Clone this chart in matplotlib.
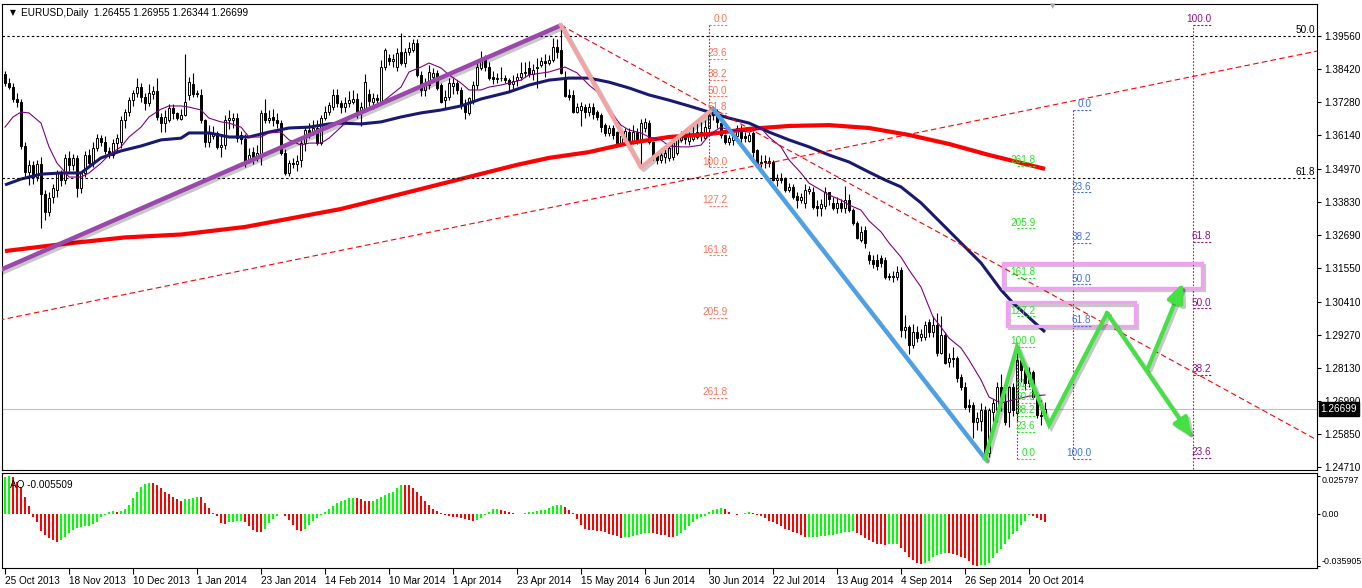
import numpy as np
import matplotlib
matplotlib.use("Agg")
import matplotlib.pyplot as plt
import matplotlib.patheffects as pe
from matplotlib.patches import Rectangle

plt.rcParams['font.family'] = ['Liberation Sans', 'DejaVu Sans']
FS = 7.2

# ---------------- data ----------------
symbol = "EURUSD,Daily"
last_ohlc = "1.26455 1.26955 1.26344 1.26699"
last_price = 1.26699

opens = [
1.3825,1.3795,1.3782,1.3738,1.3730,1.3576,1.3486,1.3512,1.3470,1.3515,
1.3410,1.3350,1.3402,1.3425,1.3484,1.3460,1.3535,1.3512,1.3537,1.3432,
1.3484,1.3546,1.3520,1.3570,1.3605,1.3590,1.3560,1.3545,1.3587,1.3590,
1.3667,1.3694,1.3735,1.3760,1.3780,1.3746,1.3725,1.3755,1.3765,1.3677,
1.3656,1.3667,1.3708,1.3690,1.3670,1.3685,1.3752,1.3790,1.3755,1.3752,
1.3667,1.3590,1.3610,1.3622,1.3575,1.3580,1.3665,1.3668,1.3673,1.3615,
1.3600,1.3529,1.3556,1.3536,1.3539,1.3691,1.3667,1.3676,1.3668,1.3656,
1.3553,1.3484,1.3518,1.3515,1.3529,1.3587,1.3632,1.3625,1.3640,1.3587,
1.3673,1.3694,1.3710,1.3752,1.3725,1.3712,1.3725,1.3730,1.3738,1.3690,
1.3705,1.3755,1.3730,1.3742,1.3729,1.3849,1.3880,1.3870,1.3850,1.3900,
1.3863,1.3900,1.3908,1.3932,1.3822,1.3770,1.3787,1.3815,1.3829,1.3787,
1.3735,1.3745,1.3785,1.3795,1.3770,1.3718,1.3690,1.3735,1.3787,1.3846,
1.3880,1.3849,1.3815,1.3808,1.3813,1.3810,1.3805,1.3790,1.3804,1.3815,
1.3829,1.3845,1.3825,1.3845,1.3855,1.3870,1.3862,1.3873,1.3918,1.3908,
1.3815,1.3752,1.3752,1.3694,1.3700,1.3711,1.3694,1.3711,1.3694,1.3684,
1.3649,1.3622,1.3639,1.3625,1.3587,1.3597,1.3625,1.3590,1.3625,1.3598,
1.3640,1.3656,1.3591,1.3546,1.3529,1.3539,1.3536,1.3539,1.3553,1.3598,
1.3620,1.3595,1.3600,1.3608,1.3625,1.3605,1.3639,1.3684,1.3690,1.3656,
1.3615,1.3592,1.3598,1.3610,1.3639,1.3612,1.3594,1.3622,1.3563,1.3518,
1.3522,1.3527,1.3522,1.3460,1.3468,1.3467,1.3425,1.3435,1.3405,1.3391,
1.3380,1.3423,1.3418,1.3370,1.3364,1.3370,1.3418,1.3380,1.3364,1.3380,
1.3364,1.3391,1.3356,1.3312,1.3253,1.3287,1.3200,1.3184,1.3185,1.3190,
1.3184,1.3128,1.3125,1.3126,1.3150,1.2943,1.2953,1.2891,1.2936,1.2918,
1.2920,1.2970,1.2936,1.2960,1.2864,1.2926,1.2833,1.2847,1.2847,1.2781,
1.2746,1.2684,1.2684,1.2626,1.2630,1.2667,1.2519,1.2660,1.2667,1.2746,
1.2695,1.2660,1.2746,1.2657,1.2840,1.2812,1.2760,1.2798,1.2719,1.2650,
1.26455]
highs = [
1.3835,1.3812,1.3795,1.3760,1.3738,1.3590,1.3529,1.3525,1.3530,1.3540,
1.3425,1.3420,1.3445,1.3495,1.3495,1.3548,1.3560,1.3550,1.3545,1.3490,
1.3560,1.3565,1.3590,1.3620,1.3615,1.3610,1.3575,1.3600,1.3620,1.3680,
1.3705,1.3745,1.3770,1.3810,1.3795,1.3760,1.3790,1.3785,1.3810,1.3690,
1.3700,1.3720,1.3720,1.3695,1.3705,1.3893,1.3815,1.3830,1.3770,1.3775,
1.3670,1.3650,1.3645,1.3630,1.3615,1.3685,1.3700,1.3690,1.3690,1.3630,
1.3620,1.3570,1.3575,1.3580,1.3700,1.3740,1.3700,1.3705,1.3690,1.3665,
1.3565,1.3530,1.3535,1.3545,1.3600,1.3645,1.3655,1.3665,1.3665,1.3685,
1.3715,1.3730,1.3775,1.3775,1.3735,1.3745,1.3765,1.3770,1.3760,1.3730,
1.3825,1.3775,1.3760,1.3755,1.3875,1.3915,1.3895,1.3895,1.3915,1.3967,
1.3915,1.3935,1.3945,1.3945,1.3835,1.3810,1.3855,1.3845,1.3840,1.3795,
1.3770,1.3810,1.3810,1.3805,1.3780,1.3740,1.3745,1.3800,1.3865,1.3905,
1.3890,1.3865,1.3835,1.3830,1.3850,1.3820,1.3810,1.3820,1.3830,1.3865,
1.3865,1.3870,1.3860,1.3880,1.3885,1.3895,1.3890,1.3950,1.3945,1.3993,
1.3835,1.3775,1.3770,1.3725,1.3730,1.3720,1.3725,1.3725,1.3700,1.3690,
1.3655,1.3650,1.3650,1.3630,1.3630,1.3640,1.3640,1.3650,1.3640,1.3670,
1.3675,1.3665,1.3595,1.3555,1.3570,1.3565,1.3580,1.3595,1.3615,1.3630,
1.3630,1.3625,1.3645,1.3655,1.3660,1.3665,1.3700,1.3701,1.3705,1.3665,
1.3620,1.3615,1.3625,1.3650,1.3650,1.3625,1.3625,1.3630,1.3565,1.3545,
1.3545,1.3540,1.3530,1.3480,1.3485,1.3470,1.3450,1.3445,1.3420,1.3415,
1.3445,1.3440,1.3435,1.3390,1.3395,1.3435,1.3420,1.3400,1.3400,1.3395,
1.3440,1.3410,1.3365,1.3320,1.3300,1.3300,1.3215,1.3200,1.3205,1.3200,
1.3195,1.3140,1.3145,1.3165,1.3160,1.2995,1.2960,1.2965,1.2955,1.2945,
1.2975,1.2980,1.2990,1.3000,1.2990,1.2935,1.2865,1.2885,1.2855,1.2790,
1.2765,1.2705,1.2695,1.2660,1.2690,1.2680,1.2675,1.2705,1.2765,1.2790,
1.2725,1.2750,1.2760,1.2885,1.2845,1.2820,1.2815,1.2805,1.2730,1.2700,
1.26955]
lows = [
1.3785,1.3772,1.3728,1.3712,1.3565,1.3470,1.3443,1.3445,1.3455,1.3295,
1.3322,1.3335,1.3380,1.3400,1.3440,1.3445,1.3490,1.3495,1.3400,1.3414,
1.3470,1.3505,1.3505,1.3560,1.3578,1.3550,1.3535,1.3535,1.3560,1.3570,
1.3640,1.3680,1.3715,1.3745,1.3730,1.3700,1.3715,1.3740,1.3665,1.3625,
1.3625,1.3660,1.3670,1.3665,1.3665,1.3680,1.3735,1.3745,1.3745,1.3655,
1.3575,1.3575,1.3600,1.3565,1.3540,1.3565,1.3635,1.3640,1.3590,1.3585,
1.3505,1.3520,1.3515,1.3525,1.3510,1.3655,1.3655,1.3645,1.3640,1.3545,
1.3477,1.3475,1.3500,1.3490,1.3505,1.3560,1.3605,1.3615,1.3580,1.3580,
1.3665,1.3685,1.3700,1.3710,1.3690,1.3695,1.3710,1.3720,1.3675,1.3645,
1.3700,1.3715,1.3705,1.3710,1.3720,1.3840,1.3855,1.3850,1.3835,1.3855,
1.3850,1.3890,1.3900,1.3815,1.3750,1.3750,1.3775,1.3800,1.3770,1.3725,
1.3705,1.3735,1.3755,1.3755,1.3705,1.3670,1.3685,1.3720,1.3775,1.3840,
1.3835,1.3805,1.3790,1.3795,1.3800,1.3795,1.3765,1.3775,1.3785,1.3805,
1.3815,1.3815,1.3805,1.3777,1.3850,1.3815,1.3855,1.3865,1.3880,1.3825,
1.3745,1.3735,1.3690,1.3690,1.3645,1.3675,1.3680,1.3670,1.3665,1.3625,
1.3610,1.3612,1.3600,1.3585,1.3580,1.3590,1.3590,1.3585,1.3585,1.3503,
1.3625,1.3585,1.3530,1.3515,1.3520,1.3520,1.3525,1.3530,1.3545,1.3590,
1.3585,1.3580,1.3595,1.3600,1.3595,1.3600,1.3625,1.3665,1.3640,1.3605,
1.3585,1.3580,1.3580,1.3595,1.3580,1.3590,1.3590,1.3540,1.3505,1.3505,
1.3500,1.3505,1.3455,1.3440,1.3450,1.3420,1.3420,1.3395,1.3365,1.3380,
1.3365,1.3410,1.3360,1.3335,1.3335,1.3360,1.3375,1.3355,1.3345,1.3350,
1.3345,1.3350,1.3305,1.3255,1.3245,1.3225,1.3170,1.3155,1.3150,1.3160,
1.3120,1.3115,1.3110,1.3115,1.2920,1.2915,1.2860,1.2880,1.2900,1.2905,
1.2910,1.2920,1.2920,1.2855,1.2860,1.2825,1.2815,1.2815,1.2765,1.2735,
1.2670,1.2660,1.2570,1.2600,1.2595,1.2500,1.2505,1.2625,1.2625,1.2665,
1.2615,1.2610,1.2645,1.2625,1.2765,1.2735,1.2745,1.2705,1.2640,1.2615,
1.26344]
closes = [
1.3795,1.3782,1.3738,1.3730,1.3576,1.3486,1.3512,1.3470,1.3515,1.3410,
1.3350,1.3398,1.3432,1.3484,1.3460,1.3535,1.3512,1.3537,1.3432,1.3484,
1.3546,1.3520,1.3570,1.3605,1.3590,1.3560,1.3545,1.3587,1.3605,1.3667,
1.3694,1.3735,1.3760,1.3780,1.3746,1.3725,1.3760,1.3765,1.3677,1.3656,
1.3677,1.3708,1.3690,1.3675,1.3685,1.3730,1.3797,1.3755,1.3760,1.3667,
1.3590,1.3622,1.3622,1.3575,1.3580,1.3667,1.3672,1.3673,1.3605,1.3600,
1.3522,1.3546,1.3536,1.3553,1.3691,1.3667,1.3675,1.3665,1.3655,1.3553,
1.3484,1.3518,1.3515,1.3525,1.3587,1.3632,1.3615,1.3640,1.3587,1.3673,
1.3694,1.3718,1.3752,1.3725,1.3712,1.3725,1.3735,1.3738,1.3690,1.3710,
1.3797,1.3732,1.3742,1.3737,1.3849,1.3908,1.3870,1.3876,1.3897,1.3863,
1.3900,1.3915,1.3932,1.3822,1.3770,1.3787,1.3832,1.3829,1.3778,1.3729,
1.3745,1.3794,1.3795,1.3770,1.3718,1.3694,1.3742,1.3787,1.3849,1.3880,
1.3849,1.3811,1.3808,1.3813,1.3810,1.3805,1.3790,1.3802,1.3815,1.3829,
1.3832,1.3825,1.3840,1.3849,1.3870,1.3862,1.3873,1.3918,1.3901,1.3829,
1.3750,1.3746,1.3694,1.3711,1.3715,1.3694,1.3711,1.3687,1.3677,1.3642,
1.3622,1.3640,1.3615,1.3587,1.3612,1.3630,1.3596,1.3625,1.3595,1.3656,
1.3660,1.3591,1.3539,1.3529,1.3546,1.3552,1.3570,1.3587,1.3605,1.3622,
1.3600,1.3610,1.3622,1.3625,1.3615,1.3642,1.3684,1.3690,1.3660,1.3615,
1.3592,1.3605,1.3612,1.3639,1.3605,1.3605,1.3615,1.3556,1.3518,1.3522,
1.3525,1.3520,1.3460,1.3468,1.3460,1.3425,1.3435,1.3401,1.3391,1.3400,
1.3425,1.3428,1.3367,1.3364,1.3377,1.3418,1.3395,1.3364,1.3380,1.3364,
1.3391,1.3356,1.3312,1.3260,1.3280,1.3243,1.3184,1.3170,1.3165,1.3175,
1.3126,1.3125,1.3128,1.3143,1.2943,1.2953,1.2891,1.2936,1.2915,1.2930,
1.2960,1.2936,1.2960,1.2864,1.2926,1.2830,1.2847,1.2843,1.2778,1.2746,
1.2677,1.2677,1.2626,1.2640,1.2667,1.2519,1.2667,1.2691,1.2746,1.2690,
1.2625,1.2746,1.2667,1.2840,1.2805,1.2760,1.2798,1.2712,1.2650,1.2646,
1.26699]

# moving averages (bar index, price)
ma_fast_idx = [0,2,4,6,9,11,13,15,16,19,21,24,26,29,31,34,36,39,41,44,46,49,51,54,56,59,61,64,66,69,
               71,74,76,79,81,84,86,89,94,99,101,104,106,109,111,114,116,119,121,124,129,131,136,140,143,
               146,149,151,154,156,159,161,164,166,169,171,174,176,179,181,184,186,189,191,194,196,199,
               201,204,206,209,211,214,216,219,221,224,226,229,231,232,234,236,239,241,244,246,249,252,256,260]
ma_fast_val = [1.3642,1.3677,1.3694,1.3691,1.3656,1.3574,1.3518,1.3487,1.3470,1.3470,1.3484,1.3518,1.3546,
               1.3574,1.3608,1.3642,1.3677,1.3704,1.3715,1.3715,1.3711,1.3701,1.3673,1.3660,1.3656,1.3642,
               1.3608,1.3608,1.3622,1.3625,1.3598,1.3580,1.3587,1.3587,1.3604,1.3642,1.3673,1.3691,1.3725,
               1.3780,1.3832,1.3849,1.3863,1.3846,1.3822,1.3794,1.3770,1.3770,1.3780,1.3787,1.3804,1.3822,
               1.3832,1.3849,1.3829,1.3787,1.3753,1.3701,1.3649,1.3632,1.3622,1.3608,1.3598,1.3577,1.3574,
               1.3574,1.3580,1.3615,1.3642,1.3632,1.3629,1.3625,1.3639,1.3608,1.3574,1.3529,1.3484,1.3449,
               1.3425,1.3408,1.3391,1.3374,1.3356,1.3319,1.3281,1.3243,1.3194,1.3150,1.3091,1.3022,1.2988,
               1.2953,1.2915,1.2881,1.2840,1.2771,1.2712,1.2691,1.2702,1.2715,1.2719]
ma_mid_idx = [0,4,9,14,19,24,29,34,39,44,46,51,56,61,66,71,76,81,84,89,94,99,104,109,114,119,124,126,131,
              136,141,146,151,156,161,166,171,176,181,186,191,196,201,206,211,216,220,224,229,234,239,244,
              249,252,260]
ma_mid_val = [1.3443,1.3463,1.3480,1.3484,1.3484,1.3536,1.3560,1.3577,1.3598,1.3604,1.3622,1.3622,1.3608,
              1.3608,1.3625,1.3639,1.3642,1.3653,1.3656,1.3653,1.3660,1.3677,1.3691,1.3701,1.3715,1.3739,
              1.3756,1.3763,1.3787,1.3804,1.3811,1.3811,1.3797,1.3777,1.3753,1.3735,1.3715,1.3694,1.3673,
              1.3656,1.3625,1.3598,1.3574,1.3546,1.3522,1.3487,1.3460,1.3436,1.3381,1.3312,1.3243,1.3174,
              1.3081,1.3036,1.2936]
ma_slow_idx = [0,15,30,44,60,84,100,115,128,136,146,156,166,176,186,196,206,216,226,236,246,251,260]
ma_slow_val = [1.3215,1.3240,1.3262,1.3272,1.3298,1.3360,1.3415,1.3467,1.3512,1.3536,1.3556,1.3587,1.3608,
               1.3618,1.3636,1.3646,1.3649,1.3639,1.3615,1.3584,1.3546,1.3529,1.3498]

# Awesome Oscillator values
ao = [
0.0248,0.0257,0.0248,0.0215,0.0180,0.0115,0.0049,-0.0021,-0.0061,-0.0119,
-0.0150,-0.0171,-0.0183,-0.0197,-0.0185,-0.0161,-0.0131,-0.0112,-0.0096,-0.0094,
-0.0089,-0.0084,-0.0073,-0.0056,-0.0026,-0.0009,0.0009,0.0014,0.0012,0.0019,
0.0028,0.0061,0.0103,0.0145,0.0180,0.0201,0.0208,0.0206,0.0197,0.0173,
0.0145,0.0131,0.0110,0.0096,0.0084,0.0096,0.0098,0.0108,0.0115,0.0112,
0.0073,0.0040,0.0002,-0.0014,-0.0068,-0.0070,-0.0061,-0.0056,-0.0054,-0.0051,
-0.0056,-0.0084,-0.0112,-0.0126,-0.0129,-0.0103,-0.0066,-0.0037,-0.0014,-0.0005,
-0.0016,-0.0042,-0.0080,-0.0112,-0.0119,-0.0105,-0.0077,-0.0051,-0.0028,-0.0009,
0.0012,0.0028,0.0051,0.0070,0.0087,0.0094,0.0103,0.0108,0.0103,0.0098,
0.0089,0.0087,0.0089,0.0098,0.0110,0.0124,0.0140,0.0150,0.0178,0.0197,
0.0194,0.0192,0.0178,0.0145,0.0122,0.0087,0.0061,0.0028,0.0016,0.0005,
-0.0009,-0.0016,-0.0021,-0.0026,-0.0030,-0.0037,-0.0047,-0.0051,-0.0047,-0.0030,
-0.0012,0.0012,0.0028,0.0030,0.0021,0.0014,0.0007,0.0002,-0.0002,-0.0005,
0.0005,0.0007,0.0012,0.0014,0.0021,0.0026,0.0037,0.0049,0.0059,0.0061,
0.0047,0.0023,0.0005,-0.0037,-0.0082,-0.0105,-0.0110,-0.0112,-0.0117,-0.0122,
-0.0129,-0.0143,-0.0150,-0.0157,-0.0171,-0.0164,-0.0161,-0.0154,-0.0147,-0.0143,
-0.0136,-0.0131,-0.0136,-0.0143,-0.0145,-0.0150,-0.0159,-0.0164,-0.0154,-0.0131,
-0.0112,-0.0089,-0.0061,-0.0037,-0.0026,-0.0014,0.0009,0.0023,0.0033,0.0037,
0.0028,0.0009,-0.0005,-0.0007,-0.0002,0.0002,0.0007,0.0005,-0.0007,-0.0014,
-0.0030,-0.0049,-0.0061,-0.0073,-0.0089,-0.0103,-0.0112,-0.0124,-0.0136,-0.0150,
-0.0164,-0.0161,-0.0160,-0.0159,-0.0157,-0.0154,-0.0150,-0.0145,-0.0140,-0.0133,
-0.0129,-0.0124,-0.0122,-0.0131,-0.0150,-0.0171,-0.0183,-0.0197,-0.0206,-0.0211,
-0.0213,-0.0211,-0.0208,-0.0206,-0.0236,-0.0267,-0.0295,-0.0318,-0.0342,-0.0349,
-0.0342,-0.0323,-0.0300,-0.0283,-0.0276,-0.0271,-0.0274,-0.0278,-0.0285,-0.0295,
-0.0307,-0.0328,-0.0351,-0.0359,-0.0356,-0.0351,-0.0337,-0.0307,-0.0271,-0.0241,
-0.0206,-0.0173,-0.0143,-0.0119,-0.0080,-0.0049,-0.0009,-0.0014,-0.0033,-0.0042,
-0.0055]
ao_label = "AO -0.005509"
ao_ticks = [0.025797, 0.0, -0.035905]
ao_tick_labels = ["0.025797", "0.00", "-0.035905"]

date_tick_pos = [0,16,32,48,64,80,96,112,128,144,160,176,192,208,224,240,256]
date_tick_labels = ["25 Oct 2013","18 Nov 2013","10 Dec 2013","1 Jan 2014","23 Jan 2014","14 Feb 2014",
                    "10 Mar 2014","1 Apr 2014","23 Apr 2014","15 May 2014","6 Jun 2014","30 Jun 2014",
                    "22 Jul 2014","13 Aug 2014","4 Sep 2014","26 Sep 2014","20 Oct 2014"]
price_ticks = [1.39560,1.38420,1.37280,1.36140,1.34970,1.33830,1.32690,1.31550,1.30410,1.29270,
               1.28130,1.26990,1.25850,1.24710]

# hand-drawn objects (bar index, price)
trend_idx = [0, 139];            trend_val = [1.3157, 1.3993]
pink_idx = [139, 159, 177];      pink_val = [1.3993, 1.3503, 1.3705]
blue_idx = [177, 245];           blue_val = [1.3705, 1.2500]
green_idx = [245, 253, 261, 275.5]; green_val = [1.2500, 1.2885, 1.2616, 1.3001]
arrow_down_idx = [275.5, 296.75]; arrow_down_val = [1.3001, 1.2574]
arrow_up_idx = [285.75, 294.5];   arrow_up_val = [1.2812, 1.3105]
ray_up_idx = [0, 328];           ray_up_val = [1.2981, 1.3904]
ray_down_idx = [139, 328];       ray_down_val = [1.3993, 1.2564]
box_x0 = [249.5, 250.5]; box_x1 = [299.25, 282.5]
box_y0 = [1.3088, 1.2957]; box_y1 = [1.3174, 1.3039]

fib_ext_levels = [0, 23.6, 38.2, 50, 61.8, 100, 127.2, 161.8, 205.9, 261.8]
fib_ret_levels = [0, 23.6, 38.2, 50, 61.8, 100]
fib1_p = [1.3993, 1.3503]; fib1_bar = 176
fib2_p = [1.2500, 1.2885]; fib2_bar = 253
fib3_p = [1.3700, 1.2500]; fib3_bar = 267
fib4_p = [1.2042, 1.3993]; fib4_bar = 297
fib_big_p = [1.6038, 1.1876]; fib_big_levels = [50.0, 61.8]

# ---------------- layout ----------------
W, H = 1362, 588
fig = plt.figure(figsize=(W / 100, H / 100), dpi=100)
fig.patch.set_facecolor("white")

def fx(px):
    return px / W

def fy(py):
    return 1 - py / H

ax = fig.add_axes([fx(2), fy(470), fx(1317) - fx(2), fy(4) - fy(470)])
ax2 = fig.add_axes([fx(2), fy(568), fx(1317) - fx(2), fy(473) - fy(568)])
XL = (-0.75, 328.0)
for a in (ax, ax2):
    a.set_xlim(*XL)
    for s in a.spines.values():
        s.set_color("black")
        s.set_linewidth(0.8)
ax.set_ylim(1.24605, 1.40663)
ax2.set_ylim(-0.03735, 0.02776)

# ---------------- candles ----------------
o = np.array(opens); h = np.array(highs); l = np.array(lows); c = np.array(closes)
idx = np.arange(len(c))
ax.vlines(idx, l, h, color="black", lw=0.8, zorder=2)
bot = np.minimum(o, c)
hgt = np.maximum(np.abs(c - o), 0.00008)
up = c >= o
ax.bar(idx[up], hgt[up], bottom=bot[up], width=0.5, facecolor="white", edgecolor="black", lw=0.7, zorder=3)
ax.bar(idx[~up], hgt[~up], bottom=bot[~up], width=0.5, facecolor="black", edgecolor="black", lw=0.7, zorder=3)

# price line
ax.axhline(last_price, color="#C0C0C0", lw=0.8, zorder=1)

# moving averages
ax.plot(ma_slow_idx, ma_slow_val, color="#FF0000", lw=3.0, zorder=4, solid_capstyle="butt")
ax.plot(ma_mid_idx, ma_mid_val, color="#191970", lw=2.2, zorder=4, solid_capstyle="butt")
ax.plot(ma_fast_idx, ma_fast_val, color="#800080", lw=0.8, zorder=4)

# black fib levels (long term)
for L in fib_big_levels:
    p = fib_big_p[0] + (fib_big_p[1] - fib_big_p[0]) * L / 100.0
    ax.axhline(p, color="black", lw=0.8, ls=(0, (2.2, 2.2)), zorder=5)
    ax.annotate(f"{L:.1f}", xy=(327.5, p), xytext=(0, 0.6), textcoords="offset points",
                ha="right", va="bottom", fontsize=FS, color="black", zorder=8)

# red dashed rays
def ray(xs, ys, x_from, x_to):
    k = (ys[1] - ys[0]) / (xs[1] - xs[0])
    return [x_from, x_to], [ys[0] + k * (x_from - xs[0]), ys[0] + k * (x_to - xs[0])]

rx, ry = ray(ray_up_idx, ray_up_val, -3, 331)
ax.plot(rx, ry, color="#FF0000", lw=0.8, ls=(0, (5, 3)), zorder=5)
rx, ry = ray(ray_down_idx, ray_down_val, ray_down_idx[0], 331)
ax.plot(rx, ry, color="#FF0000", lw=0.8, ls=(0, (5, 3)), zorder=5)

shadow = [pe.SimpleLineShadow(offset=(1.8, -1.8), shadow_color="black", alpha=0.22), pe.Normal()]

# thick trend drawings
tx, ty = ray(trend_idx, trend_val, -3, trend_idx[1])
ax.plot(tx, ty, color="#9A48AC", lw=3.2, zorder=6, path_effects=shadow, solid_capstyle="butt")
ax.plot(pink_idx, pink_val, color="#F2A3A3", lw=3.0, zorder=6, path_effects=shadow)
ax.plot(blue_idx, blue_val, color="#4CA0E6", lw=3.0, zorder=6, path_effects=shadow)

GREEN = "#44E044"
ax.plot(green_idx, green_val, color=GREEN, lw=3.0, zorder=9, path_effects=shadow, solid_joinstyle="miter")
for xs, ys in ((arrow_down_idx, arrow_down_val), (arrow_up_idx, arrow_up_val)):
    ax.annotate("", xy=(xs[1], ys[1]), xytext=(xs[0], ys[0]),
                arrowprops=dict(arrowstyle="-|>,head_length=0.8,head_width=0.35", color=GREEN,
                                lw=3.0, mutation_scale=14, shrinkA=0, shrinkB=0,
                                path_effects=shadow), zorder=9)

# violet boxes
for x0, x1, y0, y1 in zip(box_x0, box_x1, box_y0, box_y1):
    r = Rectangle((x0, y0), x1 - x0, y1 - y0, fill=False, edgecolor="#F2A0F2", lw=2.4, zorder=6,
                  path_effects=shadow)
    ax.add_patch(r)

# fibonacci labels
def fib(p, levels, xv, color, vline_levels):
    xr = xv + 4.6
    for L in levels:
        y = p[0] + (p[1] - p[0]) * L / 100.0
        ax.plot([xv, xr], [y, y], color=color, lw=0.8, ls=(0, (2, 1.5)), zorder=7)
        ax.annotate(f"{L:.1f}", xy=(xr, y), xytext=(0, 0.6), textcoords="offset points",
                    ha="right", va="bottom", color=color, fontsize=FS, zorder=8, annotation_clip=True)
    ya = p[0] + (p[1] - p[0]) * vline_levels[0] / 100.0
    yb = p[0] + (p[1] - p[0]) * vline_levels[1] / 100.0
    ax.plot([xv, xv], [ya, yb], color="#FF0000", lw=0.8, ls=(0, (1.5, 1.5)), zorder=5)

fib(fib1_p, fib_ext_levels, fib1_bar, "#FF7058", (0, 100))
fib(fib2_p, fib_ext_levels, fib2_bar, "#22E622", (0, 100))
fib(fib3_p, fib_ret_levels, fib3_bar, "#3D6FE0", (0, 100))
fib(fib4_p, fib_ret_levels, fib4_bar, "#8B108B", (0, 100))

# ---------------- axes ticks ----------------
ax.set_xticks([])
ax.yaxis.tick_right()
ax.set_yticks(price_ticks)
ax.set_yticklabels([f"{v:.5f}" for v in price_ticks])
ax.tick_params(axis="y", direction="out", length=3, width=0.8, pad=2, labelsize=FS, colors="black")

ax.annotate(f"{last_price:.5f}", xy=(1, last_price), xycoords=("axes fraction", "data"),
            xytext=(2.5, 0), textcoords="offset points", ha="left", va="center", color="white",
            fontsize=FS, bbox=dict(boxstyle="square,pad=0.18", fc="black", ec="black"),
            annotation_clip=False, zorder=20)

# AO histogram
aov = np.array(ao)
cols = ["#00FF00" if (i == 0 or aov[i] > aov[i - 1]) else "#FF0000" for i in range(len(aov))]
ax2.bar(np.arange(len(aov)), aov, width=0.72, color=cols, linewidth=0, zorder=2)
ax2.yaxis.tick_right()
ax2.set_yticks(ao_ticks)
ax2.set_yticklabels(ao_tick_labels)
ax2.tick_params(axis="y", direction="out", length=2, width=0.8, pad=1, labelsize=6.4, colors="black")
ylabs = ax2.get_yticklabels()
ylabs[0].set_va("top")
ylabs[2].set_va("bottom")
ax2.set_xticks(date_tick_pos)
ax2.set_xticklabels(date_tick_labels, ha="left")
ax2.tick_params(axis="x", direction="out", length=4, width=0.8, pad=1.5, labelsize=FS, colors="black")
ax2.text(0.006, 0.93, ao_label, transform=ax2.transAxes, fontsize=FS, ha="left", va="top", zorder=10)

# header
fig.text(fx(10), fy(13), "\u25BC", fontsize=5.5, ha="left", va="center", family="DejaVu Sans")
fig.text(fx(21), fy(13), f"{symbol}  {last_ohlc}", fontsize=FS, ha="left", va="center")
fig.text(fx(1053), fy(6), "\u25BC", fontsize=5, ha="center", va="center", color="#A8A8A8",
         family="DejaVu Sans")

fig.savefig("out.png", dpi=100, facecolor="white")
